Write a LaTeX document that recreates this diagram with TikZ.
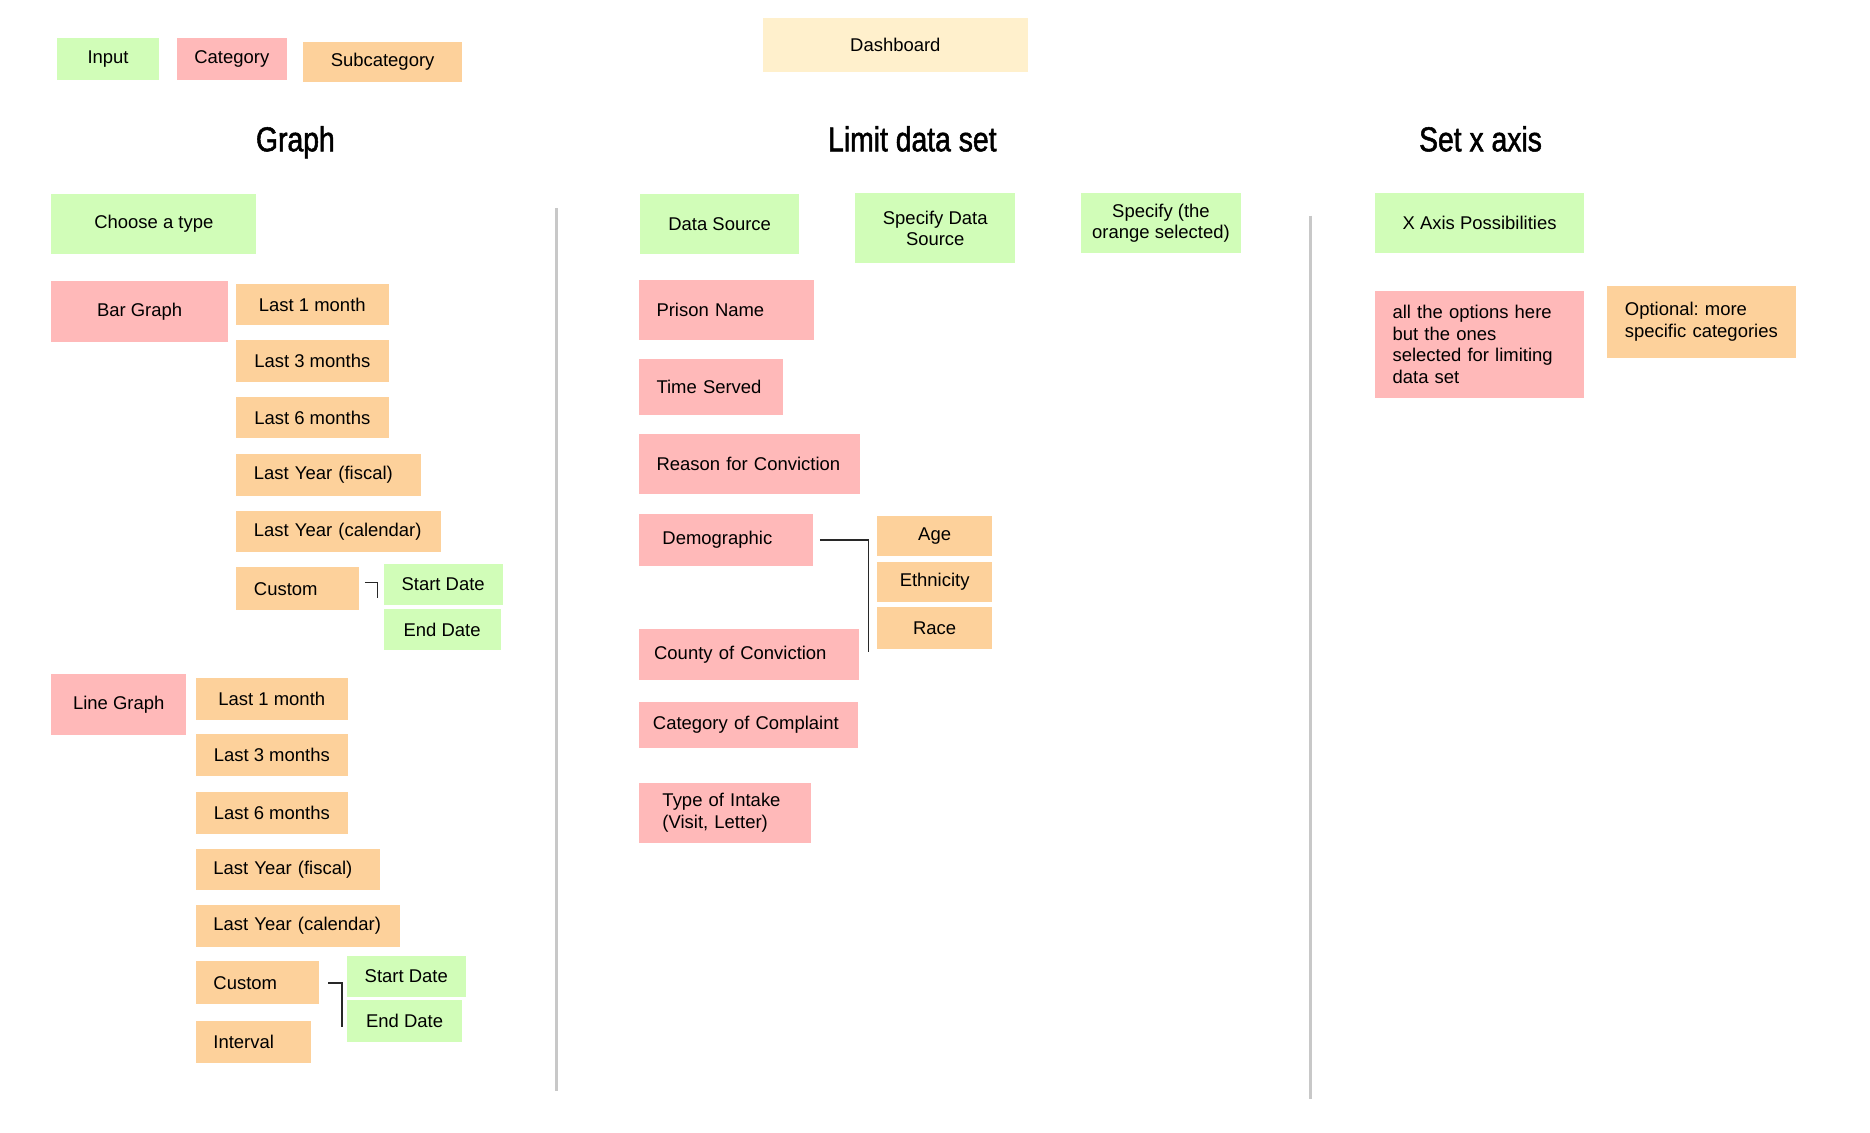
\documentclass[tikz,border=0pt]{standalone}
\usepackage{fontspec}
\setmainfont{Liberation Sans}
\newfontfamily\headfont[FakeStretch=0.82,FakeBold=1.5]{Liberation Sans}
\usepackage{xcolor}
\usepackage{tikz}
\usetikzlibrary{positioning}
\definecolor{ingreen}{RGB}{209,253,184}
\definecolor{catpink}{RGB}{255,185,185}
\definecolor{suborange}{RGB}{253,209,155}
\definecolor{dashcream}{RGB}{255,240,204}
\definecolor{divgray}{RGB}{200,200,200}
\definecolor{linkgray}{RGB}{40,40,40}
\frenchspacing

\begin{document}
\begin{tikzpicture}[x=1pt, y=-1pt,
        card/.style={rectangle, anchor=north west, inner xsep=15pt, inner ysep=0pt, align=center, font=\fontsize{15.5}{18}\selectfont},
        dims/.style 2 args={minimum width=#1pt, minimum height=#2pt},
        input/.style={card, fill=ingreen},
        cat/.style={card, fill=catpink},
        sub/.style={card, fill=suborange},
        dashcard/.style={card, fill=dashcream},
        lt/.style={align=left, text width=#1pt},
        head/.style={anchor=base, font=\headfont\fontsize{29}{34}\selectfont},
        link/.style={draw=linkgray, line width=1.2pt},
        divider/.style={draw=divgray, line width=2.8pt}
    ]
        \useasboundingbox (0,0) rectangle (1570,951);

        \node [input, dims={85}{35}] (keyin) at (48,32) {Input};
        \node [cat, dims={91}{35}] (keycat) at (148,32) {Category};
        \node [sub, dims={134}{34}] (keysub) at (254,35) {Subcategory};
        \node [dashcard, dims={223}{45}] (board) at (640,15) {Dashboard};

        \node [head] (hgraph) at (248,127) {Graph};
        \node [head] (hlimit) at (766,127) {Limit data set};
        \node [head] (haxis) at (1243,127) {Set x axis};

        \coordinate (d1top) at (467,175);
        \coordinate (d1bot) at (467,916);
        \coordinate (d2top) at (1100,181);
        \coordinate (d2bot) at (1100,923);
        \draw [divider] (d1top) -- (d1bot);
        \draw [divider] (d2top) -- (d2bot);

        \node [input, dims={172}{50}] (choose) at (43,163) {Choose a type};

        \node [cat, dims={148}{51}] (bar) at (43,236) {Bar Graph};
        \node [sub, dims={128}{35}] (b1) at (198,238) {Last 1 month};
        \node [sub, below=12pt of b1.south west, anchor=north west, dims={128}{35}] (b3) {Last 3 months};
        \node [sub, below=12pt of b3.south west, anchor=north west, dims={128}{35}] (b6) {Last 6 months};
        \node [sub, below=13pt of b6.south west, anchor=north west, dims={155}{35}, lt=125] (bfis) {Last Year (fiscal)};
        \node [sub, below=12pt of bfis.south west, anchor=north west, dims={172}{35}, lt=142] (bcal) {Last Year (calendar)};
        \node [sub, below=12pt of bcal.south west, anchor=north west, dims={103}{36}, lt=73] (bcus) {Custom};
        \node [input, dims={98}{35}] (bsd) at (322,473) {Start Date};
        \node [input, below=3pt of bsd.south west, anchor=north west, dims={98}{34}] (bed) {End Date};
        \draw [link] ([xshift=5pt,yshift=5pt]bcus.east) -| ([xshift=-5pt,yshift=6pt]bsd.south west);

        \node [cat, dims={113}{51}] (line) at (43,566) {Line Graph};
        \node [sub, dims={128}{35}] (l1) at (164,569) {Last 1 month};
        \node [sub, below=12pt of l1.south west, anchor=north west, dims={128}{35}] (l3) {Last 3 months};
        \node [sub, below=13pt of l3.south west, anchor=north west, dims={128}{35}] (l6) {Last 6 months};
        \node [sub, below=12pt of l6.south west, anchor=north west, dims={155}{35}, lt=125] (lfis) {Last Year (fiscal)};
        \node [sub, below=12pt of lfis.south west, anchor=north west, dims={172}{35}, lt=142] (lcal) {Last Year (calendar)};
        \node [sub, below=12pt of lcal.south west, anchor=north west, dims={104}{36}, lt=74] (lcus) {Custom};
        \node [sub, below=14pt of lcus.south west, anchor=north west, dims={97}{35}, lt=67] (lint) {Interval};
        \node [input, dims={97}{35}] (lsd) at (291,802) {Start Date};
        \node [input, below=2pt of lsd.south west, anchor=north west, dims={97}{35}] (led) {End Date};
        \draw [link] ([xshift=7pt]lcus.east) -| ([xshift=-4pt,yshift=-5pt]led.west);

        \node [input, dims={134}{50}] (src) at (537,163) {Data Source};
        \node [input, dims={134}{59}] (spec) at (718,162) {Specify Data\\Source};
        \node [input, dims={135}{50}, inner xsep=8pt] (spor) at (907,162) {Specify (the\\orange selected)};

        \node [cat, dims={147}{50}, lt=117] (prison) at (536,235) {Prison Name};
        \node [cat, below=16pt of prison.south west, anchor=north west, dims={121}{47}, lt=91] (served) {Time Served};
        \node [cat, below=15pt of served.south west, anchor=north west, dims={186}{51}, lt=156] (reason) {Reason for Conviction};
        \node [cat, below=16pt of reason.south west, anchor=north west, dims={146}{44}, inner xsep=20pt, lt=106] (demo) {Demographic};
        \node [cat, dims={185}{43}, inner xsep=13pt, lt=159] (county) at (536,528) {County of Conviction};
        \node [cat, below=18pt of county.south west, anchor=north west, dims={184}{38}, inner xsep=12pt, lt=160] (complaint) {Category of Complaint};
        \node [cat, below=29pt of complaint.south west, anchor=north west, dims={145}{51}, inner xsep=20pt, lt=105] (intake) {Type of Intake\\(Visit, Letter)};

        \node [sub, dims={97}{34}] (age) at (736,433) {Age};
        \node [sub, below=4pt of age.south west, anchor=north west, dims={97}{34}] (ethnic) {Ethnicity};
        \node [sub, below=4pt of ethnic.south west, anchor=north west, dims={97}{35}] (race) {Race};
        \draw [link] ([xshift=6pt]demo.east) -| ([xshift=-7pt,yshift=-2pt]race.south west);

        \node [input, dims={176}{50}] (xposs) at (1154,162) {X Axis Possibilities};
        \node [cat, dims={176}{90}, lt=146] (allopt) at (1154,244) {all the options here\\but the ones\\selected for limiting\\data set};
        \node [sub, dims={159}{60}, lt=129] (optional) at (1349,240) {Optional: more\\specific categories};
    \end{tikzpicture}
\end{document}
